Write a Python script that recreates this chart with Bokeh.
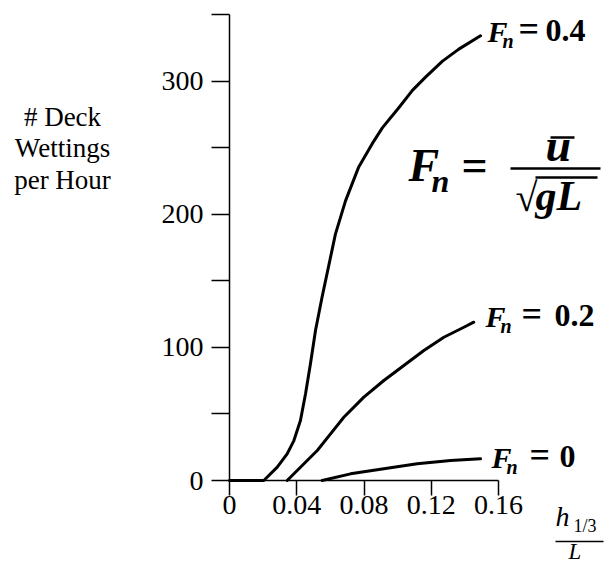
from bokeh.plotting import figure
from bokeh.models import Label, Range1d, FixedTicker
from bokeh.embed import file_html
from bokeh.resources import INLINE

# ---- data ----
x_ticks = [0, 0.04, 0.08, 0.12, 0.16]
x_tick_labels = ["0", "0.04", "0.08", "0.12", "0.16"]
y_ticks = [0, 100, 200, 300]
y_minor_ticks = [50, 150, 250, 350]

fn04_x = [0.0, 0.0204, 0.0284, 0.0343, 0.0383, 0.0422, 0.0452, 0.0482, 0.0512, 0.0551,
          0.0630, 0.0690, 0.0767, 0.0849, 0.0910, 0.1007, 0.1088, 0.1166, 0.1267, 0.1364, 0.1493]
fn04_y = [0, 0, 10, 20, 30, 45, 65, 88, 113, 138,
          185, 210, 235, 253, 265, 280, 293, 303, 315, 324, 334]

fn02_x = [0.0343, 0.0422, 0.0522, 0.0601, 0.0680, 0.0799, 0.0918, 0.1037, 0.1156, 0.1275, 0.1394, 0.1453]
fn02_y = [0, 10, 22.5, 35, 47.5, 62.6, 75.1, 86.4, 97.6, 107.6, 115.1, 118.9]

fn0_x = [0.0551, 0.0720, 0.0918, 0.1116, 0.1315, 0.1493]
fn0_y = [0, 5.0, 8.8, 12.5, 15.0, 16.3]

series_labels = ["0.4", "0.2", "0"]

# ---- layout geometry (pixels of the 605x564 page) ----
W, H = 605, 564
LEFT, RIGHT0, BOTTOM, TOP = 229, 498, 480, 14
XMAX_AXIS, YMAX = 0.16, 350


def dx(px):
    return (px - LEFT) * XMAX_AXIS / (RIGHT0 - LEFT)


def dy(py):
    return (BOTTOM - py) * YMAX / (BOTTOM - TOP)


p = figure(width=W, height=H, x_range=Range1d(dx(0), dx(W)), y_range=Range1d(dy(H), dy(0)),
           output_backend="svg", toolbar_location=None,
           min_border_left=0, min_border_right=0, min_border_top=0, min_border_bottom=0)
p.xgrid.visible = False
p.ygrid.visible = False
p.outline_line_color = None
p.background_fill_color = "white"
p.border_fill_color = "white"

SERIF = "Liberation Serif"

# x axis
xa = p.xaxis[0]
xa.fixed_location = 0
xa.ticker = FixedTicker(ticks=x_ticks, minor_ticks=[])
xa.major_label_overrides = {t: s for t, s in zip(x_ticks, x_tick_labels)}
xa.bounds = (0, XMAX_AXIS)
xa.axis_line_width = 1.5
xa.axis_line_color = "black"
xa.major_tick_line_width = 1.5
xa.major_tick_in = 0
xa.major_tick_out = 15
xa.major_label_standoff = 0
xa.major_label_text_font = SERIF
xa.major_label_text_font_size = "28px"
xa.major_label_text_color = "black"

# y axis
ya = p.yaxis[0]
ya.fixed_location = 0
ya.ticker = FixedTicker(ticks=y_ticks, minor_ticks=y_minor_ticks)
ya.bounds = (0, YMAX)
ya.axis_line_width = 1.5
ya.axis_line_color = "black"
ya.major_tick_line_width = 1.5
ya.minor_tick_line_width = 1.5
ya.minor_tick_line_color = "black"
ya.major_tick_in = 0
ya.major_tick_out = 18
ya.minor_tick_in = 0
ya.minor_tick_out = 18
ya.major_label_standoff = 8
ya.major_label_text_font = SERIF
ya.major_label_text_font_size = "28px"
ya.major_label_text_color = "black"
ya.major_label_orientation = "horizontal"

# curves
for xs, ys in [(fn04_x, fn04_y), (fn02_x, fn02_y), (fn0_x, fn0_y)]:
    p.line(xs, ys, line_width=3, line_color="black", line_join="round", line_cap="round")


def lab(text, px, py, size, style="normal", align="left", font=SERIF):
    # py is the wanted baseline in page pixels
    p.add_layout(Label(x=dx(px), y=dy(py - 0.4 * size), text=text, text_font=font,
                       text_font_size=f"{size}px", text_font_style=style,
                       text_align=align, text_baseline="alphabetic", text_color="black"))


def rule(x0, x1, py, width=2.5):
    p.segment(x0=[dx(x0)], y0=[dy(py)], x1=[dx(x1)], y1=[dy(py)],
              line_width=width, line_color="black")


# y axis title
for t, by in zip(["# Deck", "Wettings", "per Hour"], [127, 158.5, 190]):
    lab(t, 62, by, 27, align="center")

# x axis title  h_{1/3} / L
lab("h", 555, 527, 28, style="italic")
lab("1/3", 573, 533, 18)
rule(555, 603, 541, width=1.5)
lab("L", 568, 560, 23, style="italic")

# series labels  F_n = value
label_pos = [(487, 43, 518, 545), (485, 328, 521, 554), (491, 469, 529, 559)]
for v, (fx, by, ex, vx) in zip(series_labels, label_pos):
    lab("F", fx, by, 30, style="bold italic")
    lab("n", fx + 15, by + 5, 20, style="bold italic")
    lab("=", ex, by, 36, style="bold")
    lab(v, vx, by, 32, style="bold")

# formula  F_n = u-bar / sqrt(gL)
lab("F", 408, 183, 46, style="bold italic")
lab("n", 431, 193, 32, style="bold italic")
lab("=", 461, 183, 46, style="bold")
lab("u", 545, 163, 46, style="bold italic")
lab("\u221a", 515, 213, 40, style="bold")
lab("gL", 535, 212, 42, style="bold italic")
rule(550, 574, 137)
rule(510, 600, 168)
rule(535, 597, 177)

open("out.html", "w").write(file_html(p, INLINE))
